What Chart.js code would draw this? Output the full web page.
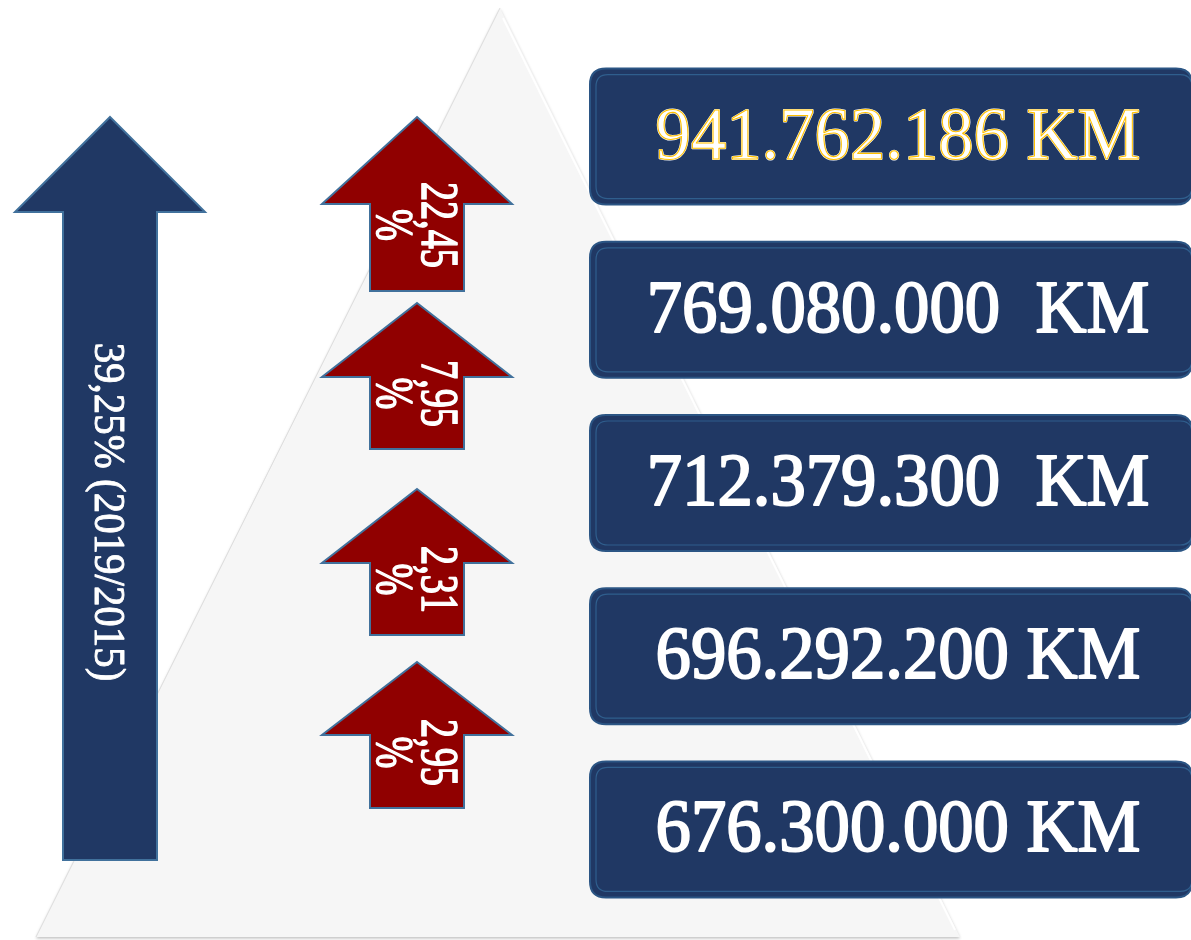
<!DOCTYPE html>
<html>
<head>
<meta charset="utf-8">
<title>KM 2015-2019</title>
<script src="https://cdn.jsdelivr.net/npm/chart.js@4.4.0/dist/chart.umd.min.js"></script>
<style>
  html, body { margin: 0; padding: 0; background: #fff; }
  #wrap { width: 1191px; height: 940px; }
</style>
</head>
<body>
<div id="wrap"><canvas id="kmChart" width="1191" height="940"></canvas></div>
<script>
// Data (top row first)
const years = ['2019', '2018', '2017', '2016', '2015'];
const kmLabels = ['941.762.186 KM', '769.080.000  KM', '712.379.300  KM', '696.292.200 KM', '676.300.000 KM'];
const kmValues = [941762186, 769080000, 712379300, 696292200, 676300000];
// yearly growth, top arrow first
const growthLabels = ['22,45 %', '7,95 %', '2,31 %', '2,95 %'];
const totalLabel = '39,25% (2019/2015)';

// Colours
const navy = '#203864';
const navyEdge = '#2b5584';
const arrowEdge = '#41719c';
const darkRed = '#900000';
const serif = '"Liberation Serif", "Times New Roman", serif';

// Layout of the decorations (pixels)
const redArrows = [
    { tip: 117, base: 204, bottom: 291 },
    { tip: 303, base: 377, bottom: 449 },
    { tip: 489, base: 563, bottom: 635 },
    { tip: 662, base: 735, bottom: 808 }
];

function roundRectPath(ctx, x, y, w, h, r) {
    ctx.beginPath();
    ctx.moveTo(x + r, y);
    ctx.lineTo(x + w - r, y);
    ctx.quadraticCurveTo(x + w, y, x + w, y + r);
    ctx.lineTo(x + w, y + h - r);
    ctx.quadraticCurveTo(x + w, y + h, x + w - r, y + h);
    ctx.lineTo(x + r, y + h);
    ctx.quadraticCurveTo(x, y + h, x, y + h - r);
    ctx.lineTo(x, y + r);
    ctx.quadraticCurveTo(x, y, x + r, y);
    ctx.closePath();
}

// Up arrow: centre x, tip, head base, bottom, head half width, shaft half width
function upArrow(ctx, cx, tip, base, bottom, headHalf, shaftHalf, fill) {
    ctx.beginPath();
    ctx.moveTo(cx, tip);
    ctx.lineTo(cx + headHalf, base);
    ctx.lineTo(cx + shaftHalf, base);
    ctx.lineTo(cx + shaftHalf, bottom);
    ctx.lineTo(cx - shaftHalf, bottom);
    ctx.lineTo(cx - shaftHalf, base);
    ctx.lineTo(cx - headHalf, base);
    ctx.closePath();
    ctx.fillStyle = fill;
    ctx.fill();
    ctx.lineWidth = 2;
    ctx.strokeStyle = arrowEdge;
    ctx.stroke();
}

// Vertical text (rotated clockwise), lines stacked to the left
function verticalText(ctx, lines, cx, cy, size, squeeze, offsets, weight) {
    ctx.save();
    ctx.translate(cx, cy);
    ctx.rotate(Math.PI / 2);
    ctx.scale(squeeze, 1);
    ctx.font = size + 'px ' + serif;
    ctx.fillStyle = '#ffffff';
    ctx.strokeStyle = '#ffffff';
    ctx.lineWidth = weight;
    ctx.lineJoin = 'round';
    ctx.textAlign = 'center';
    ctx.textBaseline = 'alphabetic';
    lines.forEach((line, i) => {
        ctx.strokeText(line, 0, offsets[i]);
        ctx.fillText(line, 0, offsets[i]);
    });
    ctx.restore();
}

const infographic = {
    id: 'infographic',
    beforeDraw(chart) {
        const ctx = chart.ctx;
        ctx.save();
        ctx.fillStyle = '#ffffff';
        ctx.fillRect(0, 0, chart.width, chart.height);
        ctx.restore();
    },
    afterDatasetsDraw(chart) {
        const ctx = chart.ctx;
        const yScale = chart.scales.y;

        // Pyramid in the background
        ctx.save();
        ctx.beginPath();
        ctx.moveTo(500, 8);
        ctx.lineTo(960, 937);
        ctx.lineTo(36, 937);
        ctx.closePath();
        ctx.shadowColor = 'rgba(0,0,0,0.25)';
        ctx.shadowBlur = 3;
        ctx.shadowOffsetY = 1.5;
        ctx.fillStyle = '#f6f6f6';
        ctx.fill();
        ctx.shadowColor = 'transparent';
        ctx.lineWidth = 1;
        ctx.strokeStyle = '#dedede';
        ctx.beginPath();
        ctx.moveTo(500, 8);
        ctx.lineTo(36, 937);
        ctx.stroke();
        ctx.strokeStyle = '#ffffff';
        ctx.lineWidth = 2;
        ctx.beginPath();
        ctx.moveTo(503, 18);
        ctx.lineTo(955, 930);
        ctx.stroke();
        ctx.restore();

        // Big navy arrow with the overall growth
        ctx.save();
        upArrow(ctx, 110, 117, 212, 860, 95, 47, navy);
        verticalText(ctx, [totalLabel], 110, 512, 44, 0.93, [15], 0.9);
        ctx.restore();

        // Red arrows with yearly growth
        ctx.save();
        redArrows.forEach((a, i) => {
            upArrow(ctx, 417, a.tip, a.base, a.bottom, 95, 47, darkRed);
            const parts = growthLabels[i].split(' ');
            const cy = a.tip + 0.62 * (a.bottom - a.tip);
            verticalText(ctx, parts, 417, cy, 52, 0.735, [-5, 40], 1.6);
        });
        ctx.restore();

        // KM boxes, one per year row
        years.forEach((year, i) => {
            const cy = yScale.getPixelForValue(i);
            const top = cy - 68;
            ctx.save();
            roundRectPath(ctx, 590, top, 602, 136, 16);
            ctx.fillStyle = navy;
            ctx.fill();
            ctx.lineWidth = 2;
            ctx.strokeStyle = navyEdge;
            ctx.stroke();
            roundRectPath(ctx, 596, top + 6, 596, 124, 12);
            ctx.lineWidth = 1.2;
            ctx.strokeStyle = 'rgba(60, 125, 175, 0.55)';
            ctx.stroke();

            ctx.translate(898, cy + 22);
            ctx.scale(0.955, 1);
            ctx.font = '74px ' + serif;
            ctx.textAlign = 'center';
            ctx.textBaseline = 'alphabetic';
            ctx.lineJoin = 'round';
            ctx.strokeStyle = '#ffffff';
            ctx.lineWidth = 2;
            ctx.strokeText(kmLabels[i], 0, 0);
            ctx.fillStyle = '#ffffff';
            ctx.fillText(kmLabels[i], 0, 0);
            if (i === 0) {
                // gold inline on the latest year
                ctx.lineWidth = 1.1;
                ctx.strokeStyle = '#ffc000';
                ctx.strokeText(kmLabels[i], 0, 0);
            }
            ctx.restore();
        });
    }
};

new Chart(document.getElementById('kmChart'), {
    type: 'bar',
    data: {
        labels: years,
        datasets: [{
            label: 'KM',
            data: kmValues,
            backgroundColor: 'rgba(0,0,0,0)',
            borderWidth: 0
        }]
    },
    options: {
        indexAxis: 'y',
        responsive: false,
        animation: false,
        devicePixelRatio: 1,
        layout: { padding: { top: 50, bottom: 24, left: 0, right: 0 } },
        plugins: {
            legend: { display: false },
            tooltip: { enabled: false }
        },
        scales: {
            x: { display: false, min: 0 },
            y: { display: false }
        }
    },
    plugins: [infographic]
});
</script>
</body>
</html>
